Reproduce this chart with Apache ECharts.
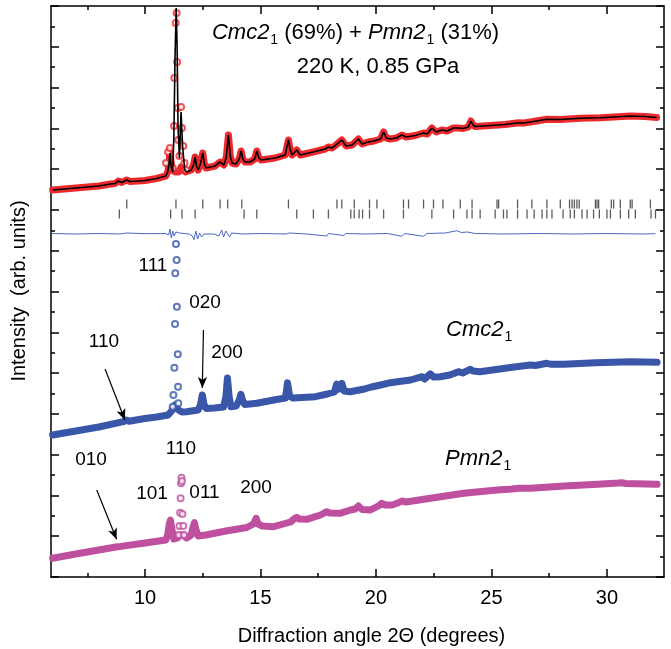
<!DOCTYPE html>
<html>
<head>
<meta charset="utf-8">
<script src="https://cdn.jsdelivr.net/npm/echarts@6/dist/echarts.min.js"></script>
<style>
  html, body { margin: 0; padding: 0; background: #fff; }
  #main { width: 671px; height: 649px; }
</style>
</head>
<body>
<div id="main"></div>
<script>
// x range and ticks (2Theta, degrees)
var xMin = 5.93, xMax = 32.47;
var xMajor = [10, 15, 20, 25, 30];
var xMinor = [7.5, 12.5, 17.5, 22.5, 27.5];
var yMax = 571;

var obs = [[6.0,387],[6.5,388],[7.0,389],[7.5,390],[8.0,391],[8.5,393],[8.7,393.5],[8.85,396],[9.0,394.5],[9.2,397],[9.35,395.5],
  [9.7,396],[10.0,396.5],[10.5,398.5],[10.9,401],[11.0,406],[11.05,417],[11.08,427],[11.12,417],[11.18,407],[11.3,405],
  [11.47,405],[11.56,410],[11.66,407],[11.75,405],[11.82,405],[12.0,407],[12.1,412],[12.17,420],[12.24,410],[12.3,407],
  [12.4,413],[12.5,424],[12.57,413],[12.64,409],[13.03,411],[13.25,415],[13.42,412],[13.52,420],[13.61,442],[13.7,420],
  [13.77,414],[13.94,413],[14.08,418],[14.16,426],[14.24,418],[14.33,415],[14.55,415],[14.75,418],[14.84,426],[14.93,419],
  [15.03,417],[15.63,419],[16.07,422],[16.14,430],[16.21,437],[16.28,428],[16.37,422],[16.57,427],[16.72,422],[17.28,425],
  [17.8,428],[17.94,430],[18.1,429],[18.27,432],[18.52,437],[18.71,431],[18.97,432],[19.24,438],[19.4,433],[19.66,435],
  [19.92,436],[20.2,438],[20.33,445],[20.45,439],[20.62,438],[20.88,439],[21.12,442],[21.31,440],[21.7,441.5],[22.06,444],
  [22.22,443],[22.42,449],[22.61,445],[22.85,447],[23.08,446],[23.35,449],[23.56,449],[23.78,448.5],[24.0,450],[24.11,456],
  [24.2,452],[24.3,450.5],[24.95,451.5],[25.6,452.5],[26.17,454.3],[26.4,454],[26.68,455],[27.4,457.7],[27.98,457.5],
  [28.85,458.7],[29.71,459.2],[30.65,460.5],[31.01,461],[31.66,460.5],[32.15,459.5]];
// observed points on the strong peaks (open circles)
var obsPeak = [[10.91,414],[11.0,425],[11.08,429],[11.2,409],[11.26,451],[11.27,499],[11.33,554],[11.37,564],[11.39,515],
  [11.42,469],[11.44,437],[11.49,421],[11.56,470],[11.6,449],[11.66,431],[11.71,414],[11.78,407]];
// calculated profile on the strong peaks
var calcPeak = [[10.98,405],[11.04,413],[11.08,424],[11.13,410],[11.2,405],[11.25,440],[11.3,520],[11.35,569],[11.39,530],
  [11.43,450],[11.49,419],[11.56,465],[11.63,430],[11.72,407],[11.78,405]];
// difference curve
var diff = [[5.95,343.5],[7.0,343],[8.0,343.5],[8.9,343],[9.2,344],[10.0,343.3],[10.9,343.5],[11.02,342],[11.08,348],[11.14,339],
  [11.2,346],[11.26,341],[11.34,345],[11.42,343],[11.5,344],[11.9,343],[12.05,341],[12.12,337.3],[12.2,346],[12.28,338],
  [12.36,344],[12.45,340],[12.55,343],[13.0,343],[13.2,341],[13.32,347],[13.4,340],[13.5,346],[13.58,348],[13.66,340],
  [13.75,344],[14.2,343],[15.0,343.5],[16.1,343],[16.18,341.3],[16.26,344],[17.0,343],[17.87,341],[17.95,343.5],[18.6,341.5],
  [18.7,343.5],[19.5,343],[20.5,343.5],[21.12,340.7],[21.25,343.5],[22.06,340.7],[22.2,343.5],[23.0,344],[23.5,346.3],
  [23.7,344.5],[23.95,345],[24.3,343.5],[25.5,343],[27.0,343.5],[28.5,343],[30.0,343.5],[31.5,343],[32.1,343.3]];

// Bragg reflection positions
var cmcTicks = [9.21,11.34,12.5,13.25,13.58,14.19,16.21,18.31,18.52,19.06,19.72,20.04,21.19,21.41,22.06,22.49,22.9,23.65,
  24.16,25.24,25.31,26.13,26.75,27.4,27.98,28.38,28.49,28.59,28.7,28.8,29.5,29.57,29.64,30.19,30.29,30.58,31.01,31.09,31.88];
var pmnTicks = [8.89,11.11,11.6,12.17,14.29,14.84,16.57,17.29,17.94,18.91,19.06,19.27,19.42,19.72,20.33,21.19,22.42,23.36,
  23.94,24.16,24.51,25.16,25.52,25.67,26.13,26.54,26.85,27.19,27.4,27.62,28.1,28.41,28.59,28.92,29.14,29.42,29.67,30.0,
  30.15,30.58,30.94,31.23,31.91,32.1];
var cmcTickLevel = 373, pmnTickLevel = 363;

// simulated Cmc2_1 pattern
var cmc = [[6.0,142],[7.0,146],[8.0,150],[9.06,155.3],[9.18,157],[9.3,155.8],[10.0,158.5],[10.5,160],[11.0,162],[11.15,166],
  [11.3,172],[11.45,167],[11.6,165],[11.8,165.3],[12.3,167],[12.4,172],[12.48,182],[12.56,172],[12.65,168.5],[13.0,169],
  [13.4,170],[13.5,180],[13.57,199],[13.64,181],[13.72,170.3],[13.95,171],[14.08,177],[14.15,182.7],[14.22,177],[14.32,172.5],
  [14.84,173.7],[15.57,177],[16.08,179],[16.17,194.3],[16.26,181],[16.4,179],[17.38,180.3],[17.9,183],[18.2,185],[18.3,193],
  [18.4,188],[18.52,193.7],[18.62,186],[18.88,185.3],[19.5,188],[19.8,190],[20.2,192],[20.63,194.3],[21.0,195.5],[21.5,197],
  [21.99,200.3],[22.1,198],[22.35,203],[22.5,200],[22.78,200.3],[23.2,202],[23.57,205.3],[23.75,204],[24.08,207.7],[24.2,206],
  [24.5,205.3],[25.9,209.7],[26.68,212],[26.9,211.5],[27.4,213.7],[27.6,212.7],[28.12,212.7],[29.5,214.3],[31.0,215.3],[32.17,214.7]];
var cmcPeak = [[11.2,170.3],[11.23,182],[11.27,209.3],[11.3,253],[11.31,303.7],[11.34,333],[11.37,317],[11.38,270.3],
  [11.42,222.7],[11.43,190.3],[11.44,173.7]];

// simulated Pmn2_1 pattern
var pmn = [[6.0,18.7],[7.0,23],[8.0,27],[8.8,30.3],[8.87,32],[8.95,30.6],[10.0,34],[10.9,37],[10.98,42],[11.05,53],[11.1,57],
  [11.16,48],[11.25,38],[11.4,39],[11.5,42],[11.65,42],[11.8,39],[12.0,42],[12.08,50],[12.14,54.3],[12.2,48],[12.3,41],
  [12.64,42],[13.5,46],[14.4,49.5],[14.7,53],[14.81,58.7],[14.9,53],[15.08,51],[15.57,50.3],[16.3,55],[16.45,58],[16.57,59.7],
  [16.68,58],[17.0,57.7],[17.6,62],[17.87,65.3],[18.0,64],[18.44,63.7],[18.9,67],[19.1,68],[19.24,71],[19.4,67.5],[19.76,67],
  [20.1,71],[20.25,73.7],[20.4,72],[20.69,72],[20.95,74],[21.12,76],[21.3,75],[22.36,78.7],[23.8,83.7],[25.24,87],[25.9,88],
  [26.18,88.7],[26.7,88.7],[28.16,91],[29.6,92.7],[30.5,94],[30.65,94.3],[30.8,93.5],[32.17,92.7]];
var pmnPeak = [[11.46,42],[11.49,51],[11.52,64.3],[11.54,78.7],[11.56,93.7],[11.58,99.3],[11.6,96],[11.62,63],[11.66,51],[11.69,42]];

// arrows pointing to reflections [from, to]
var arrows = [[[8.27,208],[9.13,157]], [[12.53,247],[12.48,189]], [[7.91,87],[8.77,37.7]]];

var FONT = '"Liberation Sans", Arial, sans-serif';
var RED = '#ec2a2e', BLUE = '#3a56a8', MAG = '#bf50a0', DIFF = '#4a68bc';

var calc = obs.filter(function (p) { return p[0] < 10.95 || p[0] > 11.8; })
  .concat(calcPeak).sort(function (a, b) { return a[0] - b[0]; });

function band(data, color, z) {
  return { type: 'line', data: data, showSymbol: false, z: z, silent: true,
    lineStyle: { color: color, width: 7, cap: 'round', join: 'round' } };
}
function rings(data, color, z) {
  return { type: 'scatter', data: data, symbol: 'emptyCircle', symbolSize: 6, z: z, silent: true,
    itemStyle: { color: color, borderColor: color, borderWidth: 1.2 } };
}
function bragg(list, level) {
  return { type: 'scatter', data: list.map(function (x) { return [x, level]; }), symbol: 'rect',
    symbolSize: [1.3, 9], silent: true, itemStyle: { color: '#333' } };
}
function xAx(pos, ticks, len, main) {
  return { type: 'value', min: xMin, max: xMax, position: pos,
    axisLine: { show: main, lineStyle: { color: '#000', width: 1.5 } },
    axisTick: { inside: true, length: len, customValues: ticks, lineStyle: { color: '#000', width: 1.5 } },
    axisLabel: { show: main && pos === 'bottom', customValues: ticks, fontSize: 20, color: '#000', fontFamily: FONT, margin: 11 },
    splitLine: { show: false } };
}
function yAx(pos) {
  return { type: 'value', min: 0, max: yMax, interval: yMax / 14, position: pos,
    axisLine: { show: true, lineStyle: { color: '#000', width: 1.5 } },
    axisTick: { show: true, inside: true, length: 8, lineStyle: { color: '#000', width: 1.5 } },
    minorTick: { show: true, splitNumber: 2, length: 4, lineStyle: { color: '#000', width: 1.5 } },
    axisLabel: { show: false }, splitLine: { show: false }, minorSplitLine: { show: false } };
}
function txt(x, y, s, size, align, extra) {
  var st = { text: s, x: 0, y: 0, fill: '#000', font: size + 'px ' + FONT, align: align || 'center', verticalAlign: 'middle' };
  if (extra) for (var k in extra) st[k] = extra[k];
  return { type: 'text', x: x, y: y, silent: true, style: st };
}
function sgRich(size) {
  return {
    i: { fontStyle: 'italic', fontSize: size, fontFamily: FONT, color: '#000' },
    n: { fontSize: size, fontFamily: FONT, color: '#000' },
    s: { fontSize: 14, fontFamily: FONT, color: '#000', padding: [14, 0, 0, 1] }
  };
}

var chart = echarts.init(document.getElementById('main'));
chart.setOption({
  animation: false,
  grid: { left: 51, right: 7, top: 6, bottom: 72, containLabel: false, outerBoundsMode: 'none' },
  xAxis: [xAx('bottom', xMajor, 8, true), xAx('bottom', xMinor, 4, false), xAx('top', xMajor, 8, true), xAx('top', xMinor, 4, false)],
  yAxis: [yAx('left'), yAx('right')],
  series: [
    band(obs, RED, 2),
    rings(obsPeak, RED, 3),
    { type: 'line', data: calc, showSymbol: false, z: 4, silent: true, lineStyle: { color: '#000', width: 1.6 } },
    bragg(cmcTicks, cmcTickLevel),
    bragg(pmnTicks, pmnTickLevel),
    { type: 'line', data: diff, showSymbol: false, z: 2, silent: true, lineStyle: { color: DIFF, width: 1 } },
    band(cmc, BLUE, 2),
    rings(cmcPeak, BLUE, 3),
    band(pmn, MAG, 2),
    rings(pmnPeak, MAG, 3),
    { type: 'line', data: [], silent: true,
      markLine: { silent: true, symbol: ['none', 'arrow'], symbolSize: [7, 11], label: { show: false },
        lineStyle: { color: '#000', width: 1.2, type: 'solid' },
        data: arrows.map(function (a) { return [{ coord: a[0] }, { coord: a[1] }]; }) } }
  ],
  graphic: [
    txt(355.5, 33, '{i|Cmc2}{s|1}{n| (69%) + }{i|Pmn2}{s|1}{n| (31%)}', 22, 'center', { rich: sgRich(22) }),
    txt(378, 66.5, '220 K, 0.85 GPa', 22),
    txt(446, 330, '{i|Cmc2}{s|1}', 22, 'left', { rich: sgRich(22) }),
    txt(445, 459, '{i|Pmn2}{s|1}', 22, 'left', { rich: sgRich(22) }),
    txt(153, 266, '111', 19),
    txt(205, 302.5, '020', 19),
    txt(227, 352.5, '200', 19),
    txt(104, 341.5, '110', 19),
    txt(91, 459.5, '010', 19),
    txt(181, 448.5, '110', 19),
    txt(152, 494, '101', 19),
    txt(204.5, 492.5, '011', 19),
    txt(256, 487.5, '200', 19),
    txt(371.5, 636, 'Diffraction angle 2\u0398 (degrees)', 20),
    { type: 'text', x: 19, y: 291, rotation: Math.PI / 2, silent: true,
      style: { text: 'Intensity  (arb. units)', fill: '#000', font: '20px ' + FONT, align: 'center', verticalAlign: 'middle' } }
  ]
});
</script>
</body>
</html>
